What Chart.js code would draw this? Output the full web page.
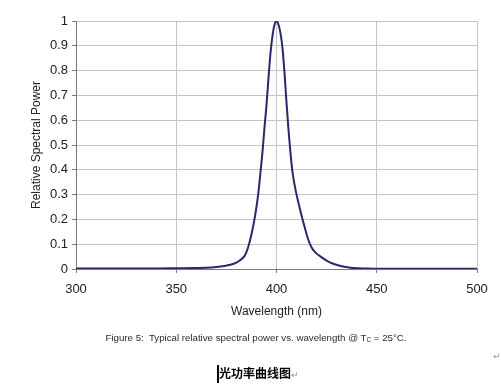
<!DOCTYPE html>
<html>
<head>
<meta charset="utf-8">
<script src="https://cdn.jsdelivr.net/npm/chart.js@4/dist/chart.umd.min.js"></script>
<style>
  html, body { margin: 0; padding: 0; background: #fff; }
  #wrap { position: relative; width: 501px; height: 386px; overflow: hidden; }
  #caption {
    position: absolute; left: 0; width: 512px; top: 332px;
    text-align: center; font: 9.7px "Liberation Sans", Arial, sans-serif; color: #2a2a2a;
    white-space: nowrap;
  }
  #caption sub { font-size: 6.5px; vertical-align: -1px; }
  #cn {
    position: absolute; left: 217px; top: 365px;
    font: bold 12px "Noto Sans CJK SC", sans-serif; color: #000;
    border-left: 2px solid #000; line-height: 16px; white-space: nowrap;
  }
  .mark { color: #999; font-weight: normal; font-size: 9px; }
  #endmark { position: absolute; left: 493px; top: 351px; font: 9px "DejaVu Sans", sans-serif; color: #999; }
</style>
</head>
<body>
<div id="wrap">
  <canvas id="chart" width="501" height="386"></canvas>
  <div id="caption">Figure 5:&nbsp; Typical relative spectral power vs. wavelength @ T<sub>C</sub> = 25°C.</div>
  <div id="endmark">↵</div>
  <div id="cn">光功率曲线图<span class="mark">↵</span></div>
</div>
<script>
  // ── Data ──
  const wavelengths = [300, 320, 340, 350, 360, 365, 370, 374, 377, 380, 382, 384, 385, 386, 387, 388, 389, 390, 391, 392, 393, 394, 395, 396, 397, 398, 399, 400, 401, 402, 403, 404, 405, 406, 407, 408, 409, 410, 411, 412, 413, 414, 415, 416, 417, 418, 420, 422, 425, 428, 432, 437, 445, 450, 470, 500];
  const relPower    = [0.002, 0.002, 0.002, 0.003, 0.004, 0.005, 0.008, 0.012, 0.017, 0.026, 0.036, 0.052, 0.068, 0.092, 0.122, 0.158, 0.2, 0.25, 0.31, 0.39, 0.47, 0.57, 0.66, 0.77, 0.87, 0.94, 0.985, 1.0, 0.985, 0.95, 0.89, 0.79, 0.67, 0.56, 0.465, 0.39, 0.34, 0.3, 0.265, 0.232, 0.2, 0.17, 0.14, 0.115, 0.095, 0.08, 0.062, 0.05, 0.034, 0.022, 0.012, 0.005, 0.002, 0.001, 0.001, 0.001];
  const xTickLabels = ['300', '350', '400', '450', '500'];
  const yTickLabels = ['0', '0.1', '0.2', '0.3', '0.4', '0.5', '0.6', '0.7', '0.8', '0.9', '1'];

  const points = wavelengths.map((w, i) => ({ x: w, y: relPower[i] }));

  const tickFont = { family: '"Liberation Sans", Arial, sans-serif', size: 13 };
  const titleFont = { family: '"Liberation Sans", Arial, sans-serif', size: 12 };
  const gridColor = '#c4c4c4';
  const axisColor = '#7a7a7a';

  new Chart(document.getElementById('chart'), {
    type: 'line',
    data: {
      datasets: [{
        data: points,
        borderColor: '#27296b',
        borderWidth: 2,
        pointRadius: 0,
        fill: false,
        cubicInterpolationMode: 'monotone',
      }]
    },
    options: {
      responsive: false,
      animation: false,
      layout: { padding: { top: 21, right: 24, bottom: 67, left: 0 } },
      plugins: { legend: { display: false }, tooltip: { enabled: false } },
      scales: {
        x: {
          type: 'linear', min: 300, max: 500,
          afterFit: s => { s.height = 50; },
          ticks: {
            stepSize: 50, color: '#222', font: tickFont, padding: 9, maxRotation: 0,
            callback: (v, i) => xTickLabels[i],
          },
          grid: { color: gridColor, tickLength: 4, tickColor: axisColor },
          border: { color: axisColor },
          title: { display: true, text: 'Wavelength (nm)', color: '#222', font: titleFont, padding: { top: 3, bottom: 0 } },
        },
        y: {
          min: 0, max: 1,
          afterFit: s => { s.width = 76; },
          ticks: {
            stepSize: 0.1, color: '#222', font: tickFont, padding: 4,
            callback: (v, i) => yTickLabels[i],
          },
          grid: { color: gridColor, tickLength: 4, tickColor: axisColor },
          border: { color: axisColor },
          title: { display: true, text: 'Relative Spectral Power', color: '#222', font: titleFont, padding: { top: 29, bottom: 0 } },
        },
      },
    },
  });
</script>
</body>
</html>
